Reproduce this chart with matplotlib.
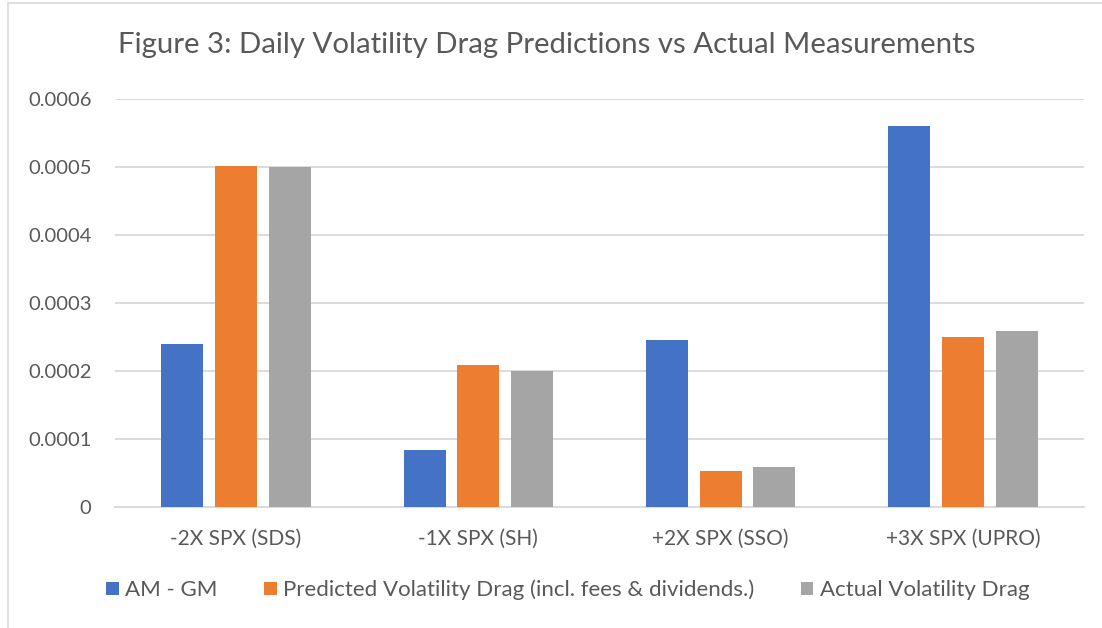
import matplotlib
matplotlib.use("Agg")
import matplotlib.pyplot as plt
from matplotlib.patches import Rectangle
import numpy as np

categories = ["-2X SPX (SDS)", "-1X SPX (SH)", "+2X SPX (SSO)", "+3X SPX (UPRO)"]
am_gm = [0.000239, 0.0000835, 0.000245, 0.00056]
predicted = [0.000502, 0.000209, 0.0000532, 0.00025]
actual = [0.0005, 0.0002, 0.000059, 0.000259]
series_names = ["AM - GM", "Predicted Volatility Drag (incl. fees & dividends.)", "Actual Volatility Drag"]
colors = ["#4472C4", "#ED7D31", "#A5A5A5"]
yticks = [0, 0.0001, 0.0002, 0.0003, 0.0004, 0.0005, 0.0006]
ytick_labels = ["0", "0.0001", "0.0002", "0.0003", "0.0004", "0.0005", "0.0006"]

plt.rcParams['font.family'] = ['Lato', 'DejaVu Sans']
text_color = "#595959"

fig = plt.figure(figsize=(11.02, 6.28), dpi=100)
ax = fig.add_axes([115 / 1102, 1 - 507 / 628, (1084 - 115) / 1102, (507 - 99) / 628])

# chart area border
fig.patches.append(Rectangle((8 / 1102, -0.1), 1.2, 1 - 3 / 628 + 0.1, transform=fig.transFigure,
                             fill=False, edgecolor="#d9d9d9", linewidth=1.2))

x = np.arange(len(categories))
width = 0.173
pitch = 0.222
for i, (vals, name, c) in enumerate(zip([am_gm, predicted, actual], series_names, colors)):
    ax.bar(x + (i - 1) * pitch, vals, width, color=c, label=name, zorder=3)

ax.set_xlim(-0.5, len(categories) - 0.5)
ax.set_ylim(0, 0.0006)
ax.set_yticks(yticks)
ax.set_yticklabels(ytick_labels)
ax.set_xticks(x)
ax.set_xticklabels(categories)
ax.tick_params(axis='both', length=0, labelsize=14.5, labelcolor=text_color)
ax.tick_params(axis='x', labelsize=15)
ax.tick_params(axis='y', pad=17)
ax.tick_params(axis='x', pad=16)
ax.grid(axis='y', color="#d9d9d9", linewidth=1.3, zorder=0)
for s in ["top", "right", "left"]:
    ax.spines[s].set_visible(False)
ax.spines["bottom"].set_color("#d9d9d9")
ax.spines["bottom"].set_linewidth(1.3)

fig.text(547 / 1102, 1 - 45 / 628, "Figure 3: Daily Volatility Drag Predictions vs Actual Measurements",
         ha='center', va='center', fontsize=21.2, color=text_color)

fig.legend(loc='center', bbox_to_anchor=(568 / 1102, 1 - 590 / 628), ncol=3, frameon=False,
           fontsize=16, labelcolor=text_color, handlelength=0.55, handleheight=0.55,
           handletextpad=0.3, columnspacing=2.1)

fig.savefig("out.png", dpi=100)
